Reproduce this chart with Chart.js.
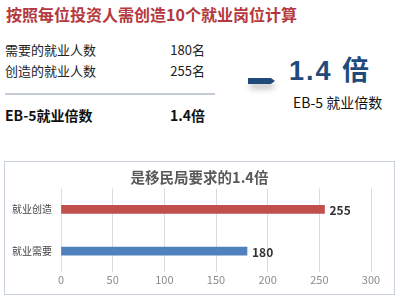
<!DOCTYPE html>
<html>
<head>
<meta charset="utf-8">
<script src="https://cdn.jsdelivr.net/npm/chart.js@4.4.1/dist/chart.umd.min.js"></script>
<style>
  body { margin: 0; width: 399px; height: 304px; background: #fff; position: relative; overflow: hidden;
         font-family: "Noto Sans CJK SC", "Noto Sans", sans-serif; }
  .t { position: absolute; white-space: nowrap; line-height: 1; }
  #head { left: 6px; top: 6px; font-size: 16px; font-weight: bold; color: #b5383d; }
  .row { font-size: 13px; color: #222; }
  .num { text-align: right; width: 80px; }
  #sep { position: absolute; left: 5px; top: 93px; width: 210px; height: 2px; background: #c6ccd5; }
  #arrow { position: absolute; left: 248px; top: 78px; width: 27px; height: 6px; background: #1f4a7a;
           clip-path: polygon(0 0, 85% 0, 100% 50%, 85% 100%, 0 100%); }
  #shadow { position: absolute; left: 250px; top: 80px; width: 24px; height: 4px;
            box-shadow: 0 4px 6px rgba(0,0,0,0.35); }
  #big { left: 289px; top: 58px; font-size: 27px; font-weight: bold; color: #1f4a7a;
         font-family: "Liberation Sans", "Noto Sans CJK SC", sans-serif; letter-spacing: 2px; }
  #sub { left: 293px; top: 95px; font-size: 14px; color: #111; }
  #box { position: absolute; left: 4px; top: 161px; width: 389px; height: 132px; border: 1px solid #c9d0da; }
  #box canvas { display: block; }
</style>
</head>
<body>
<div class="t" id="head">按照每位投资人需创造10个就业岗位计算</div>
<div class="t row" style="left:5px; top:43px;">需要的就业人数</div>
<div class="t row num" style="left:125px; top:43px;">180名</div>
<div class="t row" style="left:5px; top:64px;">创造的就业人数</div>
<div class="t row num" style="left:125px; top:64px;">255名</div>
<div id="sep"></div>
<div class="t" style="left:5px; top:108px; font-size:14px; font-weight:bold; color:#111;">EB-5就业倍数</div>
<div class="t num" style="left:125px; top:108px; font-size:14px; font-weight:bold; color:#111;">1.4倍</div>
<div id="shadow"></div>
<div id="arrow"></div>
<div class="t" id="big">1.4 倍</div>
<div class="t" id="sub">EB-5 就业倍数</div>
<div id="box"><canvas id="c" width="389" height="132"></canvas></div>
<script>
const categories = ["就业创造", "就业需要"];
const values = [255, 180];
const barColors = ["#c0504d", "#4f81bd"];
const xTicks = [0, 50, 100, 150, 200, 250, 300];
const chartTitle = "是移民局要求的1.4倍";

const valueLabels = {
  id: "valueLabels",
  afterDatasetsDraw(chart) {
    const ctx = chart.ctx;
    const meta = chart.getDatasetMeta(0);
    ctx.save();
    ctx.font = "bold 12px 'Noto Sans CJK SC', sans-serif";
    ctx.fillStyle = "#333";
    ctx.textBaseline = "middle";
    meta.data.forEach((bar, i) => {
      ctx.fillText(values[i], bar.x + 5, bar.y + 1);
    });
    ctx.restore();
  }
};

new Chart(document.getElementById("c"), {
  type: "bar",
  data: {
    labels: categories,
    datasets: [{
      data: values,
      backgroundColor: barColors,
      barThickness: 8
    }]
  },
  options: {
    indexAxis: "y",
    responsive: false,
    animation: false,
    layout: { padding: 0 },
    plugins: {
      legend: { display: false },
      tooltip: { enabled: false },
      title: {
        display: true,
        text: chartTitle,
        color: "#595959",
        font: { size: 14.5, weight: "bold", family: "'Noto Sans CJK SC', sans-serif" },
        padding: { top: 7, bottom: 2 }
      }
    },
    scales: {
      x: {
        min: 0,
        max: 300,
        afterBuildTicks: (s) => { s.ticks = xTicks.map(v => ({ value: v })); },
        afterFit: (s) => { s.height = 22; },
        grid: { color: "#dcdcdc", drawTicks: false },
        border: { display: false },
        ticks: { color: "#8c8c8c", padding: 1, font: { size: 11, family: "'Noto Sans CJK SC', sans-serif" } }
      },
      y: {
        afterFit: (s) => { s.width = 56; },
        grid: { display: false, drawTicks: false },
        border: { display: false },
        ticks: { color: "#404040", padding: 9, font: { size: 10, family: "'Noto Sans CJK SC', sans-serif" } }
      },
      y2: {
        type: "category",
        axis: "y",
        position: "right",
        afterFit: (s) => { s.width = 23; },
        grid: { display: false, drawTicks: false },
        border: { display: false },
        ticks: { display: false }
      }
    }
  },
  plugins: [valueLabels]
});
</script>
</body>
</html>
